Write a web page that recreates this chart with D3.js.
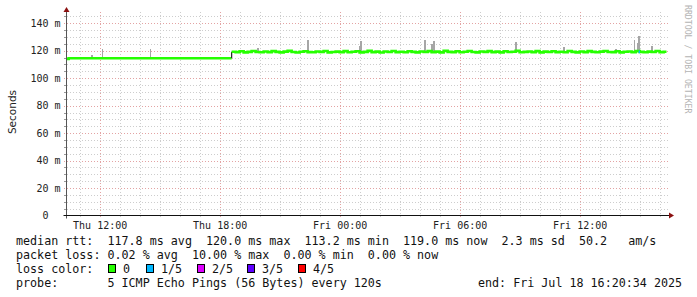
<!DOCTYPE html>
<html>
<head>
<meta charset="utf-8">
<script src="https://cdn.jsdelivr.net/npm/d3@7"></script>
<style>
  body { margin: 0; background: #fff; }
  svg { display: block; }
</style>
</head>
<body>
<svg id="chart"></svg>
<script>
// ---- Data ----
const startTime = "2025-07-17T10:20:34";
const endTime = "2025-07-18T16:20:34";

// median rtt before the route change (ms)
const earlyTimes = ["2025-07-17T10:20:34", "2025-07-17T10:27:00", "2025-07-17T18:36:00"];
const earlyValues = [114.0, 114.5, 114.5];

// median rtt after the change, one value every 12 minutes (ms)
const lateStart = "2025-07-17T18:36:00";
const lateStepMinutes = 12;
const lateValues = [
  119.3, 119.0, 119.6, 118.8, 119.2, 119.8, 119.1, 118.9, 119.5, 119.0,
  119.7, 119.2, 118.8, 119.4, 119.9, 119.1, 118.7, 119.3, 119.6, 119.0,
  118.9, 119.5, 119.2, 119.8, 118.8, 119.1, 119.4, 119.0, 119.7, 118.9,
  119.3, 119.6, 118.8, 119.2, 119.9, 119.0, 119.4, 118.7, 119.5, 119.1,
  119.8, 119.0, 119.3, 118.9, 119.6, 119.2, 118.8, 119.5, 119.1, 119.7,
  119.0, 119.4, 118.8, 119.9, 119.2, 119.0, 119.6, 118.9, 119.3, 119.8,
  119.1, 118.8, 119.5, 119.2, 119.7, 119.0, 119.4, 118.8, 119.6, 119.1,
  119.3, 119.9, 118.9, 119.2, 119.5, 119.0, 119.7, 118.8, 119.4, 119.1,
  119.6, 119.0, 119.3, 118.9, 119.8, 119.2, 118.8, 119.5, 119.0, 119.7,
  119.2, 118.9, 119.4, 119.8, 119.1, 119.0, 119.6, 118.8, 119.3, 119.5,
  119.0, 119.7, 119.2, 118.9, 119.4, 119.1, 119.8, 119.0, 119.3, 119.2
];

// smoke: the single pings that stick out above the median (ms)
const spikeTimes = [
  "2025-07-17T11:34", "2025-07-17T12:06", "2025-07-17T14:30", "2025-07-17T15:02",
  "2025-07-17T19:52", "2025-07-17T22:23", "2025-07-18T00:58", "2025-07-18T01:02",
  "2025-07-18T04:14", "2025-07-18T04:35", "2025-07-18T04:40", "2025-07-18T08:47",
  "2025-07-18T11:10", "2025-07-18T13:11", "2025-07-18T13:47", "2025-07-18T14:42",
  "2025-07-18T14:52", "2025-07-18T14:55", "2025-07-18T15:35"
];
const spikeTops = [
  116.8, 121.3, 121.3, 115.5,
  121.7, 127.8, 123.4, 127.0,
  127.8, 124.9, 127.0, 126.4,
  122.9, 120.5, 121.2, 127.8,
  126.0, 130.7, 123.4
];
const spikeBases = [
  114.5, 114.5, 114.5, 114.5,
  119.2, 119.2, 119.2, 119.2,
  119.2, 119.2, 119.2, 119.2,
  119.2, 119.2, 119.2, 119.2,
  119.2, 119.2, 119.2
];

// intervals with packet loss (index into lossColors)
const lossTimes = ["2025-07-18T14:57"];
const lossLevels = [1];

const yTicks = [0, 20, 40, 60, 80, 100, 120, 140];
const majorTimes = ["2025-07-17T12:00", "2025-07-17T18:00", "2025-07-18T00:00", "2025-07-18T06:00", "2025-07-18T12:00"];

const lossLabels = ["0", "1/5", "2/5", "3/5", "4/5"];
const lossColors = ["#26ff00", "#00b8ff", "#dd00ff", "#5e00ff", "#ff0000"];

const legendRtt = "median rtt:  117.8 ms avg  120.0 ms max  113.2 ms min  119.0 ms now  2.3 ms sd  50.2   am/s";
const legendLoss = "packet loss: 0.02 % avg  10.00 % max  0.00 % min  0.00 % now";
const legendProbe = "probe:       5 ICMP Echo Pings (56 Bytes) every 120s";
const legendEnd = "end: Fri Jul 18 16:20:34 2025";

// ---- Configuration ----
let width = 697;
let height = 297;
let plotLeft = 66.5;  // x of the value axis
let plotRight = 666.5;
let gridRight = 668;
let plotBottom = 215.5; // y of the time axis
let plotTop = 12;
let mono = "'DejaVu Sans Mono', monospace";
let minorColor = "#cdcdcd";
let majorColor = "#e3a3a3";
let arrowColor = "#8b1010";

const parse = d3.isoParse;
const minutes = m => m * 60 * 1000;
const keepSpaces = s => s.replace(/ /g, "\u00a0"); // svg collapses runs of spaces

const x = d3.scaleTime([parse(startTime), parse(endTime)], [plotLeft, plotRight]);
const y = d3.scaleLinear([0, 140], [plotBottom, 23.3]);

const svg = d3.select("#chart")
  .attr("width", width)
  .attr("height", height)
  .attr("viewBox", [0, 0, width, height]);

svg.append("rect").attr("width", width).attr("height", height).attr("fill", "#fff");

svg.append("clipPath").attr("id", "plot-clip")
  .append("rect")
  .attr("x", plotLeft).attr("y", plotTop)
  .attr("width", plotRight - plotLeft).attr("height", plotBottom - plotTop);

// ---- Grid ----
const grid = svg.append("g").attr("shape-rendering", "crispEdges");

const minorY = d3.range(5, 150, 5).filter(v => v % 20 !== 0);
grid.selectAll(".hminor")
  .data(minorY)
  .join("line")
  .attr("x1", plotLeft - 3).attr("x2", gridRight)
  .attr("y1", d => Math.round(y(d)) + 0.5).attr("y2", d => Math.round(y(d)) + 0.5)
  .attr("stroke", minorColor)
  .attr("stroke-dasharray", "1,2");

const hourTicks = d3.timeHour.range(parse(startTime), parse(endTime));
grid.selectAll(".vminor")
  .data(hourTicks.filter(t => t.getHours() % 6 !== 0))
  .join("line")
  .attr("x1", d => Math.round(x(d)) + 0.5).attr("x2", d => Math.round(x(d)) + 0.5)
  .attr("y1", plotTop).attr("y2", plotBottom + 3)
  .attr("stroke", minorColor)
  .attr("stroke-dasharray", "1,2");

grid.selectAll(".hmajor")
  .data(yTicks.filter(v => v > 0))
  .join("line")
  .attr("x1", plotLeft - 3).attr("x2", gridRight)
  .attr("y1", d => Math.round(y(d)) + 0.5).attr("y2", d => Math.round(y(d)) + 0.5)
  .attr("stroke", majorColor)
  .attr("stroke-dasharray", "1,2");

grid.selectAll(".vmajor")
  .data(majorTimes.map(parse))
  .join("line")
  .attr("x1", d => Math.round(x(d)) + 0.5).attr("x2", d => Math.round(x(d)) + 0.5)
  .attr("y1", plotTop).attr("y2", plotBottom + 3)
  .attr("stroke", majorColor)
  .attr("stroke-dasharray", "1,2");

// ---- Smoke spikes ----
const plot = svg.append("g").attr("clip-path", "url(#plot-clip)");

plot.append("g")
  .attr("fill", "#a6a6a6")
  .attr("shape-rendering", "crispEdges")
  .selectAll("rect")
  .data(spikeTimes.map((t, i) => ({t: parse(t), top: spikeTops[i], base: spikeBases[i]})))
  .join("rect")
  .attr("x", d => x(d.t))
  .attr("width", d => Math.max(1.5, x(new Date(+d.t + minutes(5))) - x(d.t)))
  .attr("y", d => y(d.top))
  .attr("height", d => y(d.base) - y(d.top));

// ---- Median line ----
const early = earlyTimes.map((t, i) => ({t: parse(t), v: earlyValues[i]}));
const late = lateValues.map((v, i) => ({t: new Date(+parse(lateStart) + minutes(i * lateStepMinutes)), v}));

const line = d3.line()
  .x(d => x(d.t))
  .y(d => y(d.v))
  .curve(d3.curveStepAfter);

plot.append("path")
  .datum(early)
  .attr("fill", "none")
  .attr("stroke", lossColors[0])
  .attr("stroke-width", 2.6)
  .attr("d", line);

// route change step
plot.append("line")
  .attr("x1", x(parse(lateStart))).attr("x2", x(parse(lateStart)))
  .attr("y1", y(earlyValues[earlyValues.length - 1])).attr("y2", y(lateValues[0]))
  .attr("stroke", "#222")
  .attr("stroke-width", 1.2);

plot.append("path")
  .datum(late)
  .attr("fill", "none")
  .attr("stroke", lossColors[0])
  .attr("stroke-width", 2.6)
  .attr("d", line);

// loss-coloured pieces of the median
plot.append("g")
  .selectAll("line")
  .data(lossTimes.map((t, i) => ({t: parse(t), level: lossLevels[i]})))
  .join("line")
  .attr("x1", d => x(d.t))
  .attr("x2", d => x(new Date(+d.t + minutes(4))))
  .attr("y1", y(119.2)).attr("y2", y(119.2))
  .attr("stroke", d => lossColors[d.level])
  .attr("stroke-width", 2.6);

// ---- Axes ----
svg.append("g")
  .attr("transform", `translate(${plotLeft},0)`)
  .call(d3.axisLeft(y).tickValues(yTicks).tickSize(0).tickPadding(6)
    .tickFormat(v => v === 0 ? "0\u00a0\u00a0" : v + " m"))
  .call(g => g.select(".domain").remove())
  .call(g => g.selectAll("text")
    .attr("font-family", mono)
    .attr("font-size", 10)
    .attr("fill", "#222"));

svg.append("g")
  .attr("transform", `translate(0,${plotBottom})`)
  .call(d3.axisBottom(x).tickValues(majorTimes.map(parse)).tickSize(0).tickPadding(6.5)
    .tickFormat(d3.timeFormat("%a %H:%M")))
  .call(g => g.select(".domain").remove())
  .call(g => g.selectAll("text")
    .attr("font-family", mono)
    .attr("font-size", 10)
    .attr("fill", "#222"));

// minor ticks on the value axis
svg.append("g")
  .attr("shape-rendering", "crispEdges")
  .selectAll("line")
  .data(minorY)
  .join("line")
  .attr("x1", plotLeft - 3).attr("x2", plotLeft)
  .attr("y1", d => Math.round(y(d)) + 0.5).attr("y2", d => Math.round(y(d)) + 0.5)
  .attr("stroke", "#999");

// axis lines with arrow heads
svg.append("line")
  .attr("x1", plotLeft).attr("x2", plotLeft)
  .attr("y1", plotBottom + 3).attr("y2", plotTop)
  .attr("stroke", "#555");
svg.append("line")
  .attr("x1", plotLeft - 3).attr("x2", 670)
  .attr("y1", plotBottom).attr("y2", plotBottom)
  .attr("stroke", "#111");
svg.append("path")
  .attr("d", `M${plotLeft - 3},${plotTop}L${plotLeft + 3},${plotTop}L${plotLeft},${plotTop - 5}Z`)
  .attr("fill", arrowColor);
svg.append("path")
  .attr("d", `M669,${plotBottom - 3}L669,${plotBottom + 3}L674,${plotBottom}Z`)
  .attr("fill", arrowColor);

// ---- Titles ----
svg.append("text")
  .attr("transform", "translate(15.5,112) rotate(-90)")
  .attr("text-anchor", "middle")
  .attr("font-family", "'DejaVu Sans', sans-serif")
  .attr("font-size", 10.5)
  .attr("fill", "#222")
  .text("Seconds");

svg.append("text")
  .attr("transform", "translate(685,5) rotate(90)")
  .attr("font-family", mono)
  .attr("font-size", 8.2)
  .attr("fill", "#b4b4b4")
  .text("RRDTOOL / TOBI OETIKER");

// ---- Legend ----
const legend = svg.append("g")
  .attr("font-family", mono)
  .attr("font-size", 11.7)
  .attr("fill", "#111");

legend.append("text").attr("x", 16).attr("y", 245).text(keepSpaces(legendRtt));
legend.append("text").attr("x", 16).attr("y", 259).text(keepSpaces(legendLoss));
legend.append("text").attr("x", 16).attr("y", 273).text("loss color:");
legend.append("text").attr("x", 16).attr("y", 287).text(keepSpaces(legendProbe));
legend.append("text").attr("x", 478).attr("y", 287).text(keepSpaces(legendEnd));

const boxX = [108, 146, 197, 247, 298];
const swatch = legend.selectAll(".swatch")
  .data(lossLabels)
  .join("g")
  .attr("transform", (d, i) => `translate(${boxX[i]},264)`);
swatch.append("rect")
  .attr("x", 0.5).attr("y", 0.5)
  .attr("width", 7).attr("height", 8)
  .attr("fill", (d, i) => lossColors[i])
  .attr("stroke", "#000")
  .attr("shape-rendering", "crispEdges");
swatch.append("text")
  .attr("x", 15).attr("y", 9)
  .text(d => d);
</script>
</body>
</html>
